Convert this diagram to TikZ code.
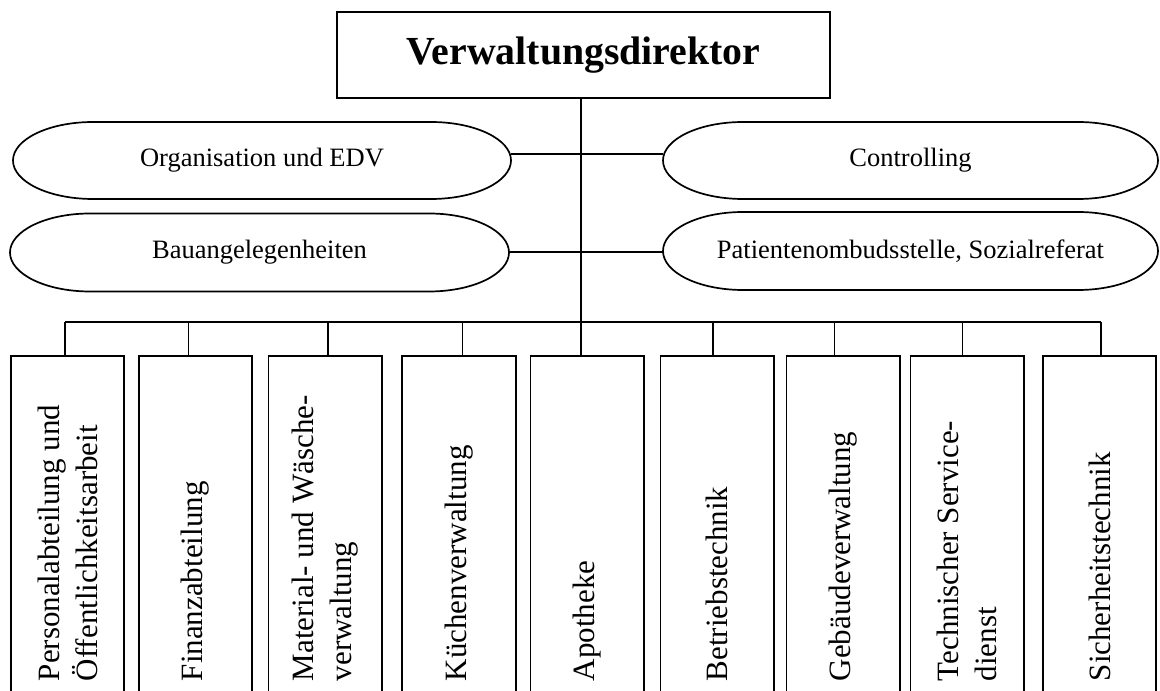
\documentclass[tikz,border=0pt]{standalone}
\usepackage{fontspec}
\setmainfont{Liberation Serif}
\usetikzlibrary{calc}
\newcommand\pillnode[6]{%
  \node[pill, minimum width=#4pt, minimum height=#5pt] (#1) at (#2,#3) {#6};
  \draw ($(#1.north west)+(80,0)$) -- ($(#1.north east)+(-80,0)$)
    arc[start angle=90,end angle=-90,x radius=80,y radius=#5/2]
    -- ($(#1.south west)+(80,0)$)
    arc[start angle=270,end angle=90,x radius=80,y radius=#5/2] -- cycle;}
\begin{document}
\begin{tikzpicture}[x=1pt,y=1pt,line width=1.7pt,
  box/.style={draw, inner sep=0pt},
  pill/.style={inner sep=0pt, outer sep=0pt, font=\fontsize{26.5}{31}\selectfont},
  dept/.style={draw, inner sep=0pt, minimum width=113.5pt, minimum height=345pt},
  depttext/.style={rotate=90, anchor=west, align=left, inner sep=0pt,
    font=\fontsize{31}{37.8}\selectfont}]
\useasboundingbox (0,0) rectangle (1160,691);
\clip (0,0) rectangle (1160,691);

% director
\node[box, minimum width=493pt, minimum height=86pt,
  font=\fontsize{39.8}{47}\selectfont\bfseries] (dir) at (583.5,636) {Verwaltungsdirektor};

% staff units
\pillnode{org}{262}{530.5}{498}{77}{Organisation und EDV}
\pillnode{bau}{259.5}{438.5}{499}{78}{Bauangelegenheiten}
\pillnode{ctrl}{910.5}{530.5}{495}{77}{Controlling}
\pillnode{pat}{910.5}{440}{495}{78}{Patientenombudsstelle, Sozialreferat}

% departments
\node[dept] (r1) at (67.5,162.5) {};
\node[dept] (r2) at (195.4,162.5) {};
\node[dept] (r3) at (325.1,162.5) {};
\node[dept] (r4) at (458.9,162.5) {};
\node[dept] (r5) at (587.2,162.5) {};
\node[dept] (r6) at (717.3,162.5) {};
\node[dept] (r7) at (843.1,162.5) {};
\node[dept] (r8) at (967.1,162.5) {};
\node[dept] (r9) at (1099.4,162.5) {};

\node[depttext] (t1) at (67.5,9) {Personalabteilung und\\Öffentlichkeitsarbeit};
\node[depttext] (t2) at (195.4,9) {Finanzabteilung};
\node[depttext] (t3) at (325.1,9) {Material- und Wäsche-\\verwaltung};
\node[depttext] (t4) at (458.9,9) {Küchenverwaltung};
\node[depttext] (t5) at (587.2,9) {Apotheke};
\node[depttext] (t6) at (717.3,9) {Betriebstechnik};
\node[depttext] (t7) at (843.1,9) {Gebäudeverwaltung};
\node[depttext] (t8) at (967.1,9) {Technischer Service-\\dienst};
\node[depttext] (t9) at (1099.4,9) {Sicherheitstechnik};

% drop points
\coordinate (d1) at ([xshift=-2.5]r1.north);
\coordinate (d2) at ([xshift=-7]r2.north);
\coordinate (d3) at ([xshift=3]r3.north);
\coordinate (d4) at ([xshift=3.5]r4.north);
\coordinate (d5) at ([xshift=-6]r5.north);
\coordinate (d6) at ([xshift=-4]r6.north);
\coordinate (d7) at ([xshift=-8.5]r7.north);
\coordinate (d8) at ([xshift=-4.5]r8.north);
\coordinate (d9) at ([xshift=1.5]r9.north);
\coordinate (bus) at (581,369);

% connectors
\draw (d5 |- dir.south) -- (d5);
\draw ([yshift=6.5]org.east) -- ([yshift=6.5]ctrl.west);
\draw ([yshift=0.5]bau.east) -- ([yshift=0.5]bau.east -| pat.west);
\draw (d1 |- bus) -- (d9 |- bus);
\foreach \i in {1,2,3,4,6,7,8,9} {\draw (d\i |- bus) -- (d\i);}
\end{tikzpicture}
\end{document}
